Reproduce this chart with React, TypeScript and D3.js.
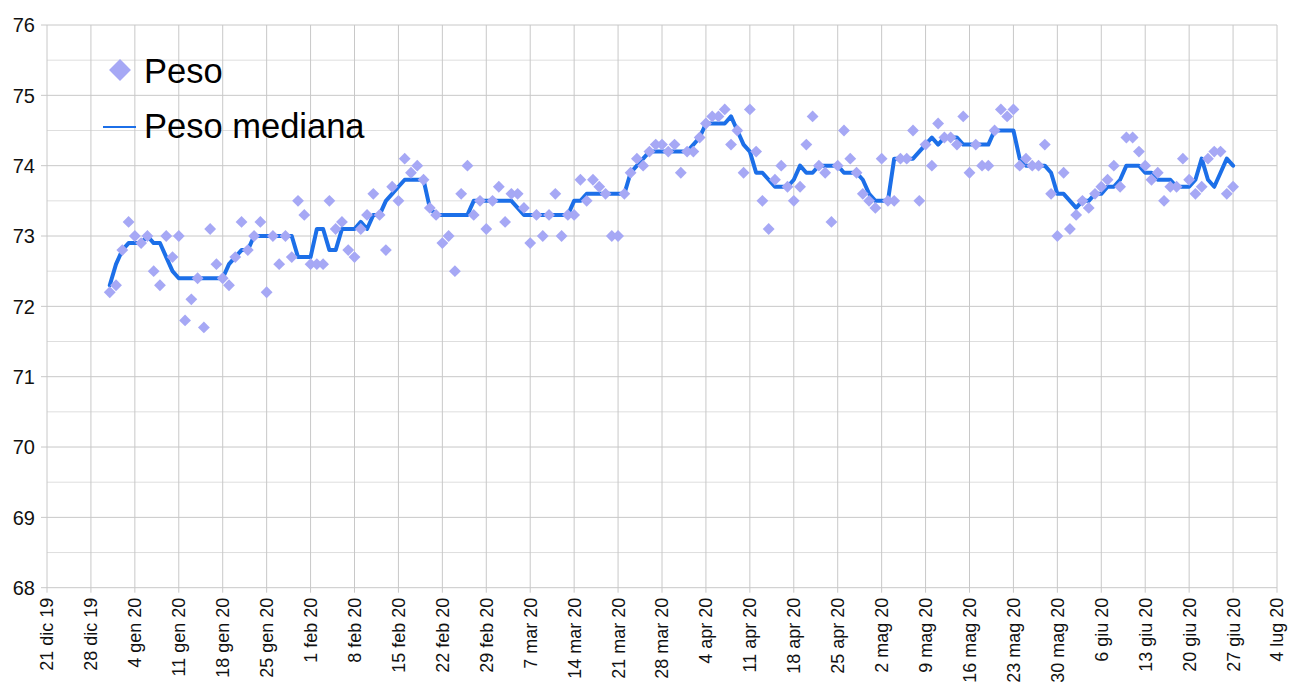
import React from "react";
import * as d3 from "d3";

// ---- data ----
const firstDay = Date.UTC(2019, 11, 31); // 31 dic 2019
const pesoValues = [
  72.2, 72.3, 72.8, 73.2, 73.0, 72.9, 73.0, 72.5, 72.3, 73.0,
  72.7, 73.0, 71.8, 72.1, 72.4, 71.7, 73.1, 72.6, 72.4, 72.3,
  72.7, 73.2, 72.8, 73.0, 73.2, 72.2, 73.0, 72.6, 73.0, 72.7,
  73.5, 73.3, 72.6, 72.6, 72.6, 73.5, 73.1, 73.2, 72.8, 72.7,
  73.1, 73.3, 73.6, 73.3, 72.8, 73.7, 73.5, 74.1, 73.9, 74.0,
  73.8, 73.4, 73.3, 72.9, 73.0, 72.5, 73.6, 74.0, 73.3, 73.5,
  73.1, 73.5, 73.7, 73.2, 73.6, 73.6, 73.4, 72.9, 73.3, 73.0,
  73.3, 73.6, 73.0, 73.3, 73.3, 73.8, 73.5, 73.8, 73.7, 73.6,
  73.0, 73.0, 73.6, 73.9, 74.1, 74.0, 74.2, 74.3, 74.3, 74.2,
  74.3, 73.9, 74.2, 74.2, 74.4, 74.6, 74.7, 74.7, 74.8, 74.3,
  74.5, 73.9, 74.8, 74.2, 73.5, 73.1, 73.8, 74.0, 73.7, 73.5,
  73.7, 74.3, 74.7, 74.0, 73.9, 73.2, 74.0, 74.5, 74.1, 73.9,
  73.6, 73.5, 73.4, 74.1, 73.5, 73.5, 74.1, 74.1, 74.5, 73.5,
  74.3, 74.0, 74.6, 74.4, 74.4, 74.3, 74.7, 73.9, 74.3, 74.0,
  74.0, 74.5, 74.8, 74.7, 74.8, 74.0, 74.1, 74.0, 74.0, 74.3,
  73.6, 73.0, 73.9, 73.1, 73.3, 73.5, 73.4, 73.6, 73.7, 73.8,
  74.0, 73.7, 74.4, 74.4, 74.2, 74.0, 73.8, 73.9, 73.5, 73.7,
  73.7, 74.1, 73.8, 73.6, 73.7, 74.1, 74.2, 74.2, 73.6, 73.7,
];
const medianaValues = [
  72.3, 72.6, 72.8, 72.9, 72.9, 72.9, 73.0, 72.9, 72.9, 72.7,
  72.5, 72.4, 72.4, 72.4, 72.4, 72.4, 72.4, 72.4, 72.4, 72.6,
  72.7, 72.8, 72.8, 73.0, 73.0, 73.0, 73.0, 73.0, 73.0, 73.0,
  72.7, 72.7, 72.7, 73.1, 73.1, 72.8, 72.8, 73.1, 73.1, 73.1,
  73.2, 73.1, 73.3, 73.3, 73.5, 73.6, 73.7, 73.8, 73.8, 73.8,
  73.8, 73.4, 73.3, 73.3, 73.3, 73.3, 73.3, 73.3, 73.5, 73.5,
  73.5, 73.5, 73.5, 73.5, 73.5, 73.4, 73.3, 73.3, 73.3, 73.3,
  73.3, 73.3, 73.3, 73.3, 73.5, 73.5, 73.6, 73.6, 73.6, 73.6,
  73.6, 73.6, 73.6, 73.9, 74.0, 74.1, 74.2, 74.2, 74.2, 74.2,
  74.2, 74.2, 74.2, 74.3, 74.4, 74.6, 74.6, 74.6, 74.6, 74.7,
  74.5, 74.3, 74.2, 73.9, 73.9, 73.8, 73.7, 73.7, 73.7, 73.8,
  74.0, 73.9, 73.9, 74.0, 74.0, 74.0, 74.0, 73.9, 73.9, 73.9,
  73.8, 73.6, 73.5, 73.5, 73.5, 74.1, 74.1, 74.1, 74.1, 74.2,
  74.3, 74.4, 74.3, 74.4, 74.4, 74.4, 74.3, 74.3, 74.3, 74.3,
  74.3, 74.5, 74.5, 74.5, 74.5, 74.1, 74.0, 74.0, 74.0, 74.0,
  73.9, 73.6, 73.6, 73.5, 73.4, 73.5, 73.5, 73.6, 73.6, 73.7,
  73.7, 73.8, 74.0, 74.0, 74.0, 73.9, 73.9, 73.8, 73.8, 73.8,
  73.7, 73.7, 73.7, 73.8, 74.1, 73.8, 73.7, 73.9, 74.1, 74.0,
];
const xTickLabels = [
  "21 dic 19", "28 dic 19", "4 gen 20", "11 gen 20", "18 gen 20", "25 gen 20",
  "1 feb 20", "8 feb 20", "15 feb 20", "22 feb 20", "29 feb 20", "7 mar 20",
  "14 mar 20", "21 mar 20", "28 mar 20", "4 apr 20", "11 apr 20", "18 apr 20",
  "25 apr 20", "2 mag 20", "9 mag 20", "16 mag 20", "23 mag 20", "30 mag 20",
  "6 giu 20", "13 giu 20", "20 giu 20", "27 giu 20", "4 lug 20",
];
const yTicks = [68, 69, 70, 71, 72, 73, 74, 75, 76];
const yMinorTicks = [68.5, 69.5, 70.5, 71.5, 72.5, 73.5, 74.5, 75.5];
const seriesNames = ["Peso", "Peso mediana"];

const FONT = "'Liberation Sans', Arial, Helvetica, sans-serif";

export default function App() {
  const W = 1297, H = 700;
  const left = 47, right = 1277, top = 25, bottom = 587.7;
  const x0 = new Date(Date.UTC(2019, 11, 21));
  const x1 = new Date(Date.UTC(2020, 6, 4));
  const x = d3.scaleUtc().domain([x0, x1]).range([left, right]);
  const y = d3.scaleLinear().domain([68, 76]).range([bottom, top]);

  const tickDates = d3.utcDay.range(x0, d3.utcDay.offset(x1, 1), 7);
  const dates = pesoValues.map((_, i) => d3.utcDay.offset(new Date(firstDay), i));

  const line = d3
    .line<number>()
    .x((_, i) => x(dates[i]))
    .y((d) => y(d));

  const diamond = d3.symbol().type(d3.symbolSquare).size(70)();
  const legendDiamond = d3.symbol().type(d3.symbolSquare).size(240)();

  const major = "#c8c8c8";
  const minor = "#dedede";
  const dotColor = "#a6a8f5";
  const lineColor = "#1c6fe8";

  return (
    <svg
      width={W}
      height={H}
      style={{ position: "absolute", left: 0, top: 0, background: "#fff" }}
      fontFamily={FONT}
    >
      <rect x={0} y={0} width={W} height={H} fill="#fff" />
      {/* minor horizontal grid */}
      {yMinorTicks.map((v) => (
        <line key={"m" + v} x1={left} x2={right} y1={y(v)} y2={y(v)} stroke={minor} strokeWidth={1} />
      ))}
      {/* major horizontal grid + y ticks */}
      {yTicks.map((v) => (
        <g key={"y" + v}>
          <line x1={left - 6} x2={right} y1={y(v)} y2={y(v)} stroke={major} strokeWidth={1} />
          <text x={35} y={y(v)} dy="0.36em" textAnchor="end" fontSize={20} fill="#111">
            {v}
          </text>
        </g>
      ))}
      {/* vertical grid + x ticks */}
      {tickDates.map((d, i) => (
        <g key={"x" + i}>
          <line x1={x(d)} x2={x(d)} y1={top} y2={bottom + 5} stroke={major} strokeWidth={1} />
          <text
            transform={`translate(${x(d)},${bottom + 10}) rotate(-90)`}
            dy="0.36em"
            textAnchor="end"
            fontSize={18}
            fill="#111"
          >
            {xTickLabels[i]}
          </text>
        </g>
      ))}
      {/* median line */}
      <path
        d={line(medianaValues) || ""}
        fill="none"
        stroke={lineColor}
        strokeWidth={4}
        strokeLinejoin="round"
        strokeLinecap="round"
      />
      {/* points */}
      {pesoValues.map((v, i) => (
        <path
          key={"p" + i}
          d={diamond || ""}
          transform={`translate(${x(dates[i])},${y(v)}) rotate(45)`}
          fill={dotColor}
        />
      ))}
      {/* legend */}
      <path d={legendDiamond || ""} transform="translate(120,70) rotate(45)" fill={dotColor} />
      <text x={144} y={83} fontSize={34.5} fill="#000">
        {seriesNames[0]}
      </text>
      <line x1={103} x2={136} y1={127} y2={127} stroke={lineColor} strokeWidth={2} />
      <text x={144} y={138} fontSize={34.5} fill="#000">
        {seriesNames[1]}
      </text>
    </svg>
  );
}
